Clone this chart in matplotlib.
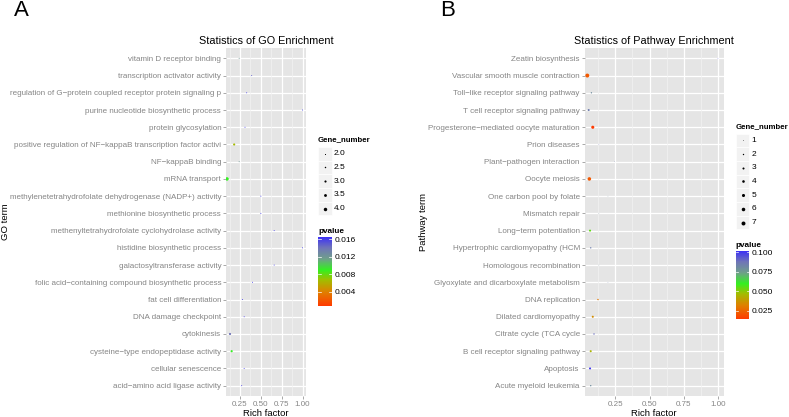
import numpy as np
import matplotlib
matplotlib.use('Agg')
import matplotlib.pyplot as plt
from matplotlib.colors import LinearSegmentedColormap, Normalize
from matplotlib.patches import Rectangle
from matplotlib.lines import Line2D

plt.rcParams['font.family'] = ['Liberation Sans', 'DejaVu Sans']

# GO enrichment data (top to bottom as shown)
go_terms = ['vitamin D receptor binding',
            'transcription activator activity',
            'regulation of G\u2212protein coupled receptor protein signaling p',
            'purine nucleotide biosynthetic process',
            'protein glycosylation',
            'positive regulation of NF\u2212kappaB transcription factor activi',
            'NF\u2212kappaB binding',
            'mRNA transport',
            'methylenetetrahydrofolate dehydrogenase (NADP+) activity',
            'methionine biosynthetic process',
            'methenyltetrahydrofolate cyclohydrolase activity',
            'histidine biosynthetic process',
            'galactosyltransferase activity',
            'folic acid\u2212containing compound biosynthetic process',
            'fat cell differentiation',
            'DNA damage checkpoint',
            'cytokinesis',
            'cysteine\u2212type endopeptidase activity',
            'cellular senescence',
            'acid\u2212amino acid ligase activity']
go_rich = [0.24, 0.39, 0.33, 1.0, 0.31, 0.18, 0.24, 0.094, 0.5, 0.5,
           0.66, 1.0, 0.66, 0.4, 0.28, 0.3, 0.13, 0.15, 0.3, 0.27]
go_genes = [2, 2, 2, 2, 2, 3, 2, 4, 2, 2, 2, 2, 2, 2, 2, 2, 3, 3, 2, 2]
go_pval = [0.012, 0.015, 0.016, 0.016, 0.016, 0.0065, 0.012, 0.009, 0.016, 0.016,
           0.016, 0.016, 0.016, 0.016, 0.016, 0.016, 0.014, 0.009, 0.016, 0.016]

# KEGG pathway data (top to bottom as shown)
kegg_terms = ['Zeatin biosynthesis',
              'Vascular smooth muscle contraction',
              'Toll\u2212like receptor signaling pathway',
              'T cell receptor signaling pathway',
              'Progesterone\u2212mediated oocyte maturation',
              'Prion diseases',
              'Plant\u2212pathogen interaction',
              'Oocyte meiosis',
              'One carbon pool by folate',
              'Mismatch repair',
              'Long\u2212term potentiation',
              'Hypertrophic cardiomyopathy (HCM',
              'Homologous recombination',
              'Glyoxylate and dicarboxylate metabolism',
              'DNA replication',
              'Dilated cardiomyopathy',
              'Citrate cycle (TCA cycle',
              'B cell receptor signaling pathway',
              'Apoptosis',
              'Acute myeloid leukemia']
kegg_rich = [1.0, 0.045, 0.075, 0.055, 0.085, 0.13, 0.245, 0.06, 0.196, 0.13,
             0.065, 0.07, 0.13, 0.196, 0.123, 0.085, 0.094, 0.07, 0.065, 0.07]
kegg_genes = [1, 7, 2, 3, 5, 1, 1, 6, 1, 1, 3, 2, 1, 1, 2, 3, 2, 3, 3, 2]
kegg_pval = [0.1, 0.022, 0.08, 0.085, 0.0145, 0.09, 0.085, 0.022, 0.08, 0.08,
             0.055, 0.085, 0.08, 0.085, 0.03, 0.035, 0.09, 0.045, 0.1, 0.08]

W, H = 789, 417
fig = plt.figure(figsize=(W / 100, H / 100), dpi=100)

def box(x0, y0, x1, y1):
    return [x0 / W, 1 - y1 / H, (x1 - x0) / W, (y1 - y0) / H]

def fx(x):
    return x / W

def fy(y):
    return 1 - y / H

cmap = LinearSegmentedColormap.from_list('pv', [
    (0.0, '#ff3a00'), (0.2, '#e07f00'), (0.38, '#9fbf00'), (0.52, '#33f020'),
    (0.68, '#6f9f8a'), (0.84, '#6f74b8'), (1.0, '#3b30f5')])

def panel(rect, terms, rich, genes, pval, title, ylabel, xlim, plim, sizefn):
    ax = fig.add_axes(rect)
    ax.set_facecolor('#e5e5e5')
    n = len(terms)
    ypos = np.arange(n)[::-1]
    for y in ypos:
        ax.axhline(y, color='white', lw=0.9, zorder=1)
    for x in [0.125, 0.375, 0.625, 0.875]:
        ax.axvline(x, color='#f2f2f2', lw=0.5, zorder=1)
    for x in [0.25, 0.5, 0.75, 1.0]:
        ax.axvline(x, color='white', lw=0.9, zorder=1)
    norm = Normalize(plim[0], plim[1])
    sc = ax.scatter(rich, ypos, s=[sizefn(g) for g in genes], c=pval, cmap=cmap,
                    norm=norm, linewidths=0, zorder=3)
    ax.set_xlim(*xlim)
    ax.set_ylim(-0.6, n - 0.4)
    ax.set_yticks(ypos)
    ax.set_yticklabels(terms, fontsize=5.8, color='#858585')
    ax.set_xticks([0.25, 0.5, 0.75, 1.0])
    ax.set_xticklabels(['0.25', '0.50', '0.75', '1.00'], fontsize=5.8, color='#858585')
    ax.tick_params(length=2, width=0.5, color='#858585', pad=1.5)
    for s in ax.spines.values():
        s.set_visible(False)
    ax.set_title(title, fontsize=7.8, pad=3)
    ax.set_xlabel('Rich factor', fontsize=6.8, labelpad=1)
    ax.set_ylabel(ylabel, fontsize=6.8)
    return ax, sc

def size_legend(x, y, levels, labels, sizefn):
    fig.text(fx(x), fy(y), 'Gene_number', fontsize=5.7, fontweight='bold',
             va='center', ha='left')
    for i, (g, lab) in enumerate(zip(levels, labels)):
        yy = y + 13.7 * (i + 1)
        fig.add_artist(Rectangle((fx(x), fy(yy + 6.8)), 13.5 / W, 13.6 / H,
                                 transform=fig.transFigure, facecolor='#f2f2f2',
                                 edgecolor='white', lw=0.5))
        fig.add_artist(Line2D([fx(x + 6.8)], [fy(yy)], marker='o', color='black',
                              markersize=np.sqrt(sizefn(g)), lw=0,
                              markeredgewidth=0, transform=fig.transFigure))
        fig.text(fx(x + 16), fy(yy), lab, fontsize=6, va='center', ha='left')

def color_legend(sc, x, y0, y1, ticks, labels):
    fig.text(fx(x), fy(y0 - 5), 'pvalue', fontsize=5.9, fontweight='bold',
             va='center', ha='left')
    cax = fig.add_axes(box(x, y0, x + 13.5, y1))
    cb = fig.colorbar(sc, cax=cax, ticks=ticks)
    cb.outline.set_visible(False)
    cb.ax.set_yticklabels(labels, fontsize=6)
    cb.ax.tick_params(length=0, pad=2)
    for t in ticks:
        cax.axhline(t, xmin=0, xmax=0.2, color='white', lw=0.5)
        cax.axhline(t, xmin=0.8, xmax=1, color='white', lw=0.5)

go_size = lambda g: 0.5 + 1.9 * (g - 2) ** 1.6
kegg_size = lambda g: 0.15 + 0.85 * (g - 1) ** 1.25

# panel A
axA, scA = panel(box(226, 48, 306, 396), go_terms, go_rich, go_genes, go_pval,
                 'Statistics of GO Enrichment', 'GO term', (0.082, 1.042),
                 (0.0007, 0.0166), go_size)
pos = axA.get_position()
axA.yaxis.set_label_coords((fx(10) - pos.x0) / pos.width, 0.5)
size_legend(318, 140, [2, 2.5, 3, 3.5, 4], ['2.0', '2.5', '3.0', '3.5', '4.0'], go_size)
color_legend(scA, 318, 236.7, 306, [0.004, 0.008, 0.012, 0.016],
             ['0.004', '0.008', '0.012', '0.016'])

# panel B
axB, scB = panel(box(584.7, 48, 723.7, 396), kegg_terms, kegg_rich, kegg_genes,
                 kegg_pval, 'Statistics of Pathway Enrichment', 'Pathway term',
                 (0.026, 1.042), (0.0144, 0.102), kegg_size)
pos = axB.get_position()
axB.yaxis.set_label_coords((fx(428) - pos.x0) / pos.width, 0.5)
size_legend(735.7, 126.7, [1, 2, 3, 4, 5, 6, 7], ['1', '2', '3', '4', '5', '6', '7'], kegg_size)
color_legend(scB, 735.7, 250.7, 319.3, [0.025, 0.05, 0.075, 0.1],
             ['0.025', '0.050', '0.075', '0.100'])

fig.text(fx(14), fy(10), 'A', fontsize=16, va='center', ha='left')
fig.text(fx(440), fy(10), 'B', fontsize=16, va='center', ha='left')

fig.savefig('out.png', dpi=100)
